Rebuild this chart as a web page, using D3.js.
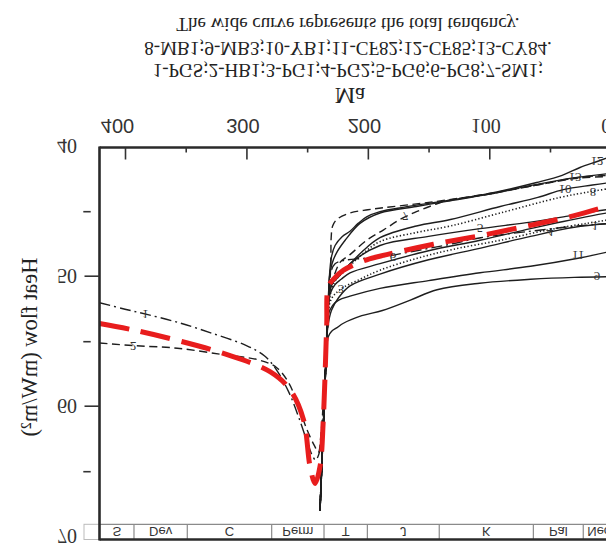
<!DOCTYPE html>
<html><head><meta charset="utf-8">
<script src="https://cdn.jsdelivr.net/npm/d3@7"></script>
<style>html,body{margin:0;padding:0;background:#fff;overflow:hidden}</style>
</head><body>
<svg id="chart" width="606" height="545"></svg>
<script>
// ---------- data ----------
const xTicksMajor = [400, 300, 200, 100, 0];
const xTicksMinor = [350, 250, 150, 50];
const xTickFont = ["sans", "sans", "sans", "serif", "serif"];
const yTicksMajor = [40, 50, 60, 70];
const yTicksMinor = [45, 55, 65];
const periodBounds = [421, 392.6, 348.7, 279.2, 236.1, 200.4, 141.2, 63.7, 22.6, 0];
const periodNames = ["S", "Dev", "C", "Perm", "T", "J", "K", "Pal", "Neo"];
const titleLines = ["The wide curve represents the total tendency.",
  "8-MB1;9-MB3;10-YB1;11-CF82;12-CF85;13-CY84.",
  "1-PGS;2-HB1;3-PG1;4-PG2;5-PG6;6-PG8;7-SM1;"];
const xTitle = "Ma";
const yTitle = "Heat flow (mW/m²)";

// [age Ma, heat flow mW/m2]
const c1 = [[421,52.0],[400,52.5],[382,52.9],[357,53.5],[330,54.3],[300,55.3],[285,56.1],[275,57.2],[265,58.9],[257,60.8],[250,62.7],[245.5,63.8],[243,64.1],[240.5,63.7],[237.4,61.5],[235.5,58.0],[233.5,54.5],[232,51.2],[230.3,49.6],[227,49.0],[220,48.75],[205,48.6],[190,48.5],[160,48.0],[132,47.5],[107,47.0],[66,46.5],[28,46.1],[0,45.9]];
const c2 = [[421,55.1],[393,55.3],[357,55.5],[319,56.0],[290,56.4],[275,57.0],[265,58.2],[257,60.0],[250,61.8],[244,63.0],[240.8,63.5],[238.5,62.0],[236,58.5],[233.5,54.5],[231.5,51.0],[230.5,48.8],[230.2,47.0],[229,46.1],[225.6,45.6],[214.7,45.1],[200,44.85],[187.5,44.7],[160,44.4],[135,44.1],[100,43.6],[61,42.95],[25,42.35],[0,42.2]];
const c3 = [[239.4,68.0],[237.4,63.3],[235.8,59.5],[234.1,55.6],[233.0,53.0],[231.0,51.3],[227,50.6],[222,50.2],[214.7,49.7],[190,49.0],[150,48.0],[107.6,47.2],[66,46.3],[39,45.75],[15,45.3],[0,45.05]];
const c4 = [[239.4,68.0],[237.4,63.3],[235.8,59.5],[234.1,55.6],[233.1,53.4],[230.5,51.8],[223,51.0],[206.5,50.2],[190,49.5],[160,48.6],[130,47.9],[91,47.2],[51.6,46.4],[20,45.9],[0,45.6]];
const c5 = [[239.4,68.0],[237.4,63.3],[235.8,59.5],[234.1,55.6],[233.1,53.3],[232.3,51.6],[229,50.5],[224,50.0],[214.7,49.0],[190,47.6],[150,46.9],[107.6,46.3],[66,45.8],[39,45.4],[15,45.0],[0,44.8]];
const c6 = [[239.4,68.0],[237.4,63.3],[235.8,59.5],[234.1,55.6],[233.2,54.0],[230,52.6],[224,51.6],[214.7,50.7],[190,49.8],[150,48.7],[107,47.8],[66,46.9],[30,46.2],[0,45.9]];
const c7 = [[239.4,68.0],[237.4,63.3],[235.8,59.5],[234.1,55.6],[233.1,53.3],[232.3,51.6],[229,50.3],[222.9,48.9],[214.7,48.3],[201,47.2],[187,46.4],[173.5,45.6],[160,45.0],[146.3,44.5],[135,44.15],[100,43.65],[61,42.95],[25,42.4],[0,42.3]];
const c8 = [[239.4,68.0],[237.4,63.3],[235.8,59.5],[234.1,55.6],[233.1,53.3],[230,51.0],[226,50.2],[220.5,49.7],[205,48.3],[190,47.3],[160,46.6],[132,46.1],[91,45.1],[41.7,43.9],[16,43.45],[0,43.2]];
const c9 = [[239.4,68.0],[237.4,63.3],[235.8,59.5],[234.3,56.0],[232.5,54.6],[229.8,54.2],[225,53.9],[220.5,53.6],[205,53.0],[188,52.6],[165,51.8],[143,51.0],[108,50.5],[66,50.2],[30,50.05],[0,50.0]];
const c10 = [[239.4,68.0],[237.4,63.3],[235.8,59.5],[234.1,55.6],[233.1,53.3],[232.3,51.6],[229,50.4],[224,49.9],[218.7,49.4],[205,48.1],[190,47.0],[160,46.1],[132,45.6],[91,44.6],[60,43.9],[39,43.3],[15,42.95],[0,42.75]];
const c11 = [[239.4,68.0],[237.4,63.3],[235.8,59.5],[234.1,55.6],[232.9,53.0],[229,52.2],[224,51.8],[214.7,51.5],[190,50.9],[150,50.3],[107.6,49.7],[66,49.2],[28,48.6],[0,48.05]];
const c12 = [[239.4,68.0],[237.4,63.3],[235.8,59.5],[234.1,55.6],[233.1,53.3],[232.5,51.8],[231.8,50.2],[230,48.5],[227,47.6],[221,46.9],[214.7,46.5],[208,45.9],[201,45.4],[190,45.0],[170,44.65],[135,44.15],[100,43.6],[61,42.75],[40,42.2],[25.3,41.6],[10,41.1],[0,40.75]];
const c13 = [[239.4,68.0],[237.4,63.3],[235.8,59.5],[234.1,55.6],[233.1,53.3],[232.5,51.8],[231.6,50.0],[229.5,49.0],[226,48.2],[218.7,47.2],[206.5,45.9],[190,45.1],[160,44.6],[135,44.2],[100,43.65],[61,42.9],[31,42.4],[0,42.05]];
const totalTrend = [[421,53.6],[393,54.1],[357,54.9],[319,55.9],[280.6,57.3],[264,58.7],[253,61.0],[247.6,64.6],[243.5,65.9],[239.4,64.6],[236.7,61.0],[233.9,53.8],[232.6,50.8],[228.4,50.2],[220,49.5],[201,48.7],[184.5,48.3],[146,47.5],[105,46.8],[63.7,46.0],[30,45.3],[9,44.75]];

const curveNames = ["1","2","3","4","5","6","7","8","9","10","11","12","13"];
const curveStyles = ["dashdot","dash","solid","dot","solid","solid","dash","dot","solid","solid","solid","solid","solid"];
const curveLabels = [["1",383.4,52.94],["2",393.3,55.4],["1",12.9,46.16],["3",222.1,51.0],["4",50,46.6],["5",107.6,46.3],["6",179.3,48.5],["7",169.4,45.4],["8",14.6,43.5],["9",11.3,50.0],["10",37.6,43.3],["11",26.9,48.4],["12",11.3,41.15],["13",29.4,42.4]];

// ---------- drawing ----------
const W = 606, H = 545;
const SERIF = "'Liberation Serif','Times New Roman',serif";
const SANS = "'Liberation Sans',Arial,sans-serif";
const svg = d3.select("#chart");
svg.append("rect").attr("width", W).attr("height", H).attr("fill", "#fff");
// whole figure is mirrored vertically, as in the reference
const root = svg.append("g").attr("transform", `translate(0,${H}) scale(1,-1)`);
const sy = s => H - s; // screen y -> inner y

const x = d3.scaleLinear().domain([421, 0]).range([99.5, 610.7]);
const y = d3.scaleLinear().domain([40, 70]).range([sy(146.7), sy(536.7)]);

const frameTop = sy(147.5), frameBottom = sy(539.5), barTop = sy(524.3);

// geologic time bar
const bar = root.append("g");
bar.append("rect").attr("x", 84).attr("y", frameBottom).attr("width", 15.5).attr("height", barTop - frameBottom)
  .attr("fill", "#fff").attr("stroke", "#bbb").attr("stroke-width", 1);
bar.append("line").attr("x1", x(421)).attr("x2", W + 10).attr("y1", barTop).attr("y2", barTop)
  .attr("stroke", "#8a8a8a").attr("stroke-width", 1.2);
bar.selectAll("line.div").data(periodBounds.slice(1, -1)).join("line").attr("class", "div")
  .attr("x1", d => x(d)).attr("x2", d => x(d)).attr("y1", frameBottom).attr("y2", barTop)
  .attr("stroke", "#8a8a8a").attr("stroke-width", 1.2);
bar.selectAll("text").data(periodNames).join("text")
  .attr("x", (d, i) => i === periodNames.length - 1 ? x(periodBounds[i]) + 4 : (x(periodBounds[i]) + x(periodBounds[i + 1])) / 2)
  .attr("y", sy(531.5)).attr("text-anchor", (d, i) => i === periodNames.length - 1 ? "start" : "middle")
  .attr("dominant-baseline", "central").attr("font-family", SANS).attr("font-size", 13).attr("fill", "#333")
  .text(d => d);

// curves
const line = d3.line().x(d => x(d[0])).y(d => y(d[1])).curve(d3.curveCatmullRom.alpha(0.5));
const dashes = { solid: null, dash: "8,4.5", dot: "1.3,2.2", dashdot: "11,4,2,4" };
const curves = [c1, c2, c3, c4, c5, c6, c7, c8, c9, c10, c11, c12, c13];
root.append("g").selectAll("path").data(curves).join("path")
  .attr("d", d => line(d)).attr("fill", "none").attr("stroke", "#1e1e1e")
  .attr("stroke-width", (d, i) => curveStyles[i] === "dot" ? 1.6 : 1.4)
  .attr("stroke-dasharray", (d, i) => dashes[curveStyles[i]])
  .attr("data-name", (d, i) => curveNames[i]);

root.append("path").attr("d", line(totalTrend)).attr("fill", "none")
  .attr("stroke", "#e81d1d").attr("stroke-width", 5).attr("stroke-dasharray", "30,12");

// curve number labels
root.append("g").selectAll("text").data(curveLabels).join("text")
  .attr("x", d => x(d[1])).attr("y", d => y(d[2]))
  .attr("text-anchor", "middle").attr("dominant-baseline", "central")
  .attr("font-family", SERIF).attr("font-size", 13).attr("fill", "#333").text(d => d[0]);

// frame
const frame = root.append("g").attr("stroke", "#2a2a2a").attr("stroke-width", 2.6);
frame.append("line").attr("x1", 99.5).attr("x2", 99.5).attr("y1", frameBottom - 1).attr("y2", frameTop + 1);
frame.append("line").attr("x1", 99.5).attr("x2", W + 10).attr("y1", frameTop).attr("y2", frameTop);
frame.append("line").attr("x1", 99.5).attr("x2", W + 10).attr("y1", frameBottom).attr("y2", frameBottom);

// top (time) axis
const xLabelShift = [-8, -4, -4, -4, -5];
const xAxisG = root.append("g").attr("transform", `translate(0,${frameTop})`)
  .call(d3.axisBottom(x).tickValues(xTicksMajor).tickSize(-12).tickFormat(d3.format("d")));
xAxisG.select(".domain").remove();
xAxisG.selectAll(".tick line").attr("stroke", "#333").attr("stroke-width", 1.6);
xAxisG.selectAll(".tick text").attr("y", 22).attr("dy", null).attr("dominant-baseline", "central")
  .attr("x", (d, i) => xLabelShift[i])
  .attr("font-size", 20).attr("fill", "#333")
  .attr("font-family", (d, i) => xTickFont[i] === "serif" ? SERIF : SANS);
const xMinorG = root.append("g").attr("transform", `translate(0,${frameTop})`)
  .call(d3.axisBottom(x).tickValues(xTicksMinor).tickSize(-5).tickFormat(""));
xMinorG.select(".domain").remove();
xMinorG.selectAll(".tick line").attr("stroke", "#333").attr("stroke-width", 1.6);

// left (heat flow) axis
const yAxisG = root.append("g").attr("transform", "translate(99.5,0)")
  .call(d3.axisLeft(y).tickValues(yTicksMajor).tickSize(15).tickFormat(d3.format("d")));
yAxisG.select(".domain").remove();
yAxisG.selectAll(".tick line").attr("stroke", "#333").attr("stroke-width", 1.6)
  .attr("display", d => (d === 40 || d === 70) ? "none" : null);
yAxisG.selectAll(".tick text").attr("x", -22.5).attr("dy", null).attr("dominant-baseline", "central")
  .attr("font-family", SERIF).attr("font-size", 20).attr("fill", "#333");
root.append("g").selectAll("line").data(yTicksMinor).join("line")
  .attr("x1", 83.3).attr("x2", 90.7).attr("y1", d => y(d)).attr("y2", d => y(d))
  .attr("stroke", "#333").attr("stroke-width", 1.6);

// titles
const titleY = [sy(24), sy(48), sy(70.5)];
root.append("g").selectAll("text").data(titleLines).join("text")
  .attr("x", 348).attr("y", (d, i) => titleY[i]).attr("text-anchor", "middle")
  .attr("dominant-baseline", "central").attr("font-family", SERIF).attr("font-size", 19)
  .attr("fill", "#222").text(d => d);
root.append("text").attr("x", 350).attr("y", sy(95)).attr("text-anchor", "middle")
  .attr("dominant-baseline", "central").attr("font-family", SERIF).attr("font-size", 23)
  .attr("fill", "#222").text(xTitle);
root.append("text").attr("transform", `translate(29,${sy(347)}) rotate(-90)`)
  .attr("text-anchor", "middle").attr("dominant-baseline", "central")
  .attr("font-family", SERIF).attr("font-size", 22.5).attr("fill", "#222").text(yTitle);
</script>
</body></html>
